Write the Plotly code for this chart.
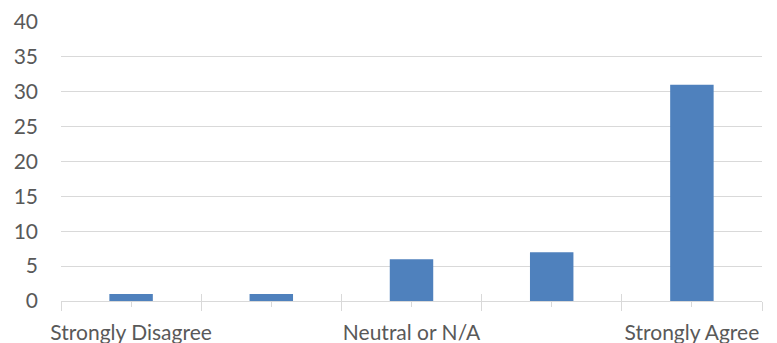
import plotly.graph_objects as go

# Survey responses per agreement level
categories = ["Strongly Disagree", "Disagree", "Neutral or N/A", "Agree", "Strongly Agree"]
counts = [1, 1, 6, 7, 31]
shown_labels = ["Strongly Disagree", "", "Neutral or N/A", "", "Strongly Agree"]
y_ticks = [0, 5, 10, 15, 20, 25, 30, 35, 40]

positions = list(range(len(categories)))
boundaries = [p - 0.5 for p in positions] + [positions[-1] + 0.5]

FONT = "Lato"
TEXT = "#595959"
GRID = "#d9d9d9"
x_range = [-0.5, len(categories) - 0.5]

fig = go.Figure(
    go.Bar(
        x=positions,
        y=counts,
        marker=dict(color="#4f81bd", line=dict(width=0)),
        hovertext=categories,
    )
)

fig.update_layout(
    width=777,
    height=343,
    margin=dict(l=61, r=15, t=22, b=42),
    paper_bgcolor="white",
    plot_bgcolor="white",
    bargap=0.69,
    showlegend=False,
    font=dict(family=FONT, color=TEXT, size=21),
    xaxis=dict(
        range=x_range,
        automargin=False,
        tickmode="array",
        tickvals=positions,
        ticktext=shown_labels,
        ticks="outside",
        ticklen=5,
        tickcolor=GRID,
        tickwidth=1,
        showline=True,
        linecolor=GRID,
        linewidth=1,
        showgrid=False,
        zeroline=False,
        ticklabelstandoff=8,
        tickfont=dict(family=FONT, size=21, color=TEXT),
    ),
    xaxis2=dict(
        overlaying="x",
        anchor="y",
        automargin=False,
        range=x_range,
        tickmode="array",
        tickvals=boundaries,
        ticks="outside",
        ticklen=9,
        tickcolor=GRID,
        tickwidth=1,
        showticklabels=False,
        showgrid=False,
        zeroline=False,
    ),
    xaxis3=dict(
        overlaying="x",
        anchor="y",
        automargin=False,
        range=x_range,
        tickmode="array",
        tickvals=boundaries,
        ticks="inside",
        ticklen=7,
        tickcolor=GRID,
        tickwidth=1,
        showticklabels=False,
        showgrid=False,
        zeroline=False,
    ),
    yaxis=dict(
        range=[0, 40],
        automargin=False,
        tickmode="array",
        tickvals=y_ticks,
        showgrid=True,
        gridcolor=GRID,
        gridwidth=1,
        zeroline=False,
        showline=False,
        ticks="",
        ticklabelstandoff=22,
        tickfont=dict(family=FONT, size=21, color=TEXT),
    ),
)

# Invisible traces so the overlay axes carrying the category boundary ticks are drawn
fig.add_trace(go.Scatter(x=[x_range[0]], y=[0], xaxis="x2", mode="markers",
                         marker=dict(opacity=0), hoverinfo="skip"))
fig.add_trace(go.Scatter(x=[x_range[0]], y=[0], xaxis="x3", mode="markers",
                         marker=dict(opacity=0), hoverinfo="skip"))

fig.write_html("out.html")
